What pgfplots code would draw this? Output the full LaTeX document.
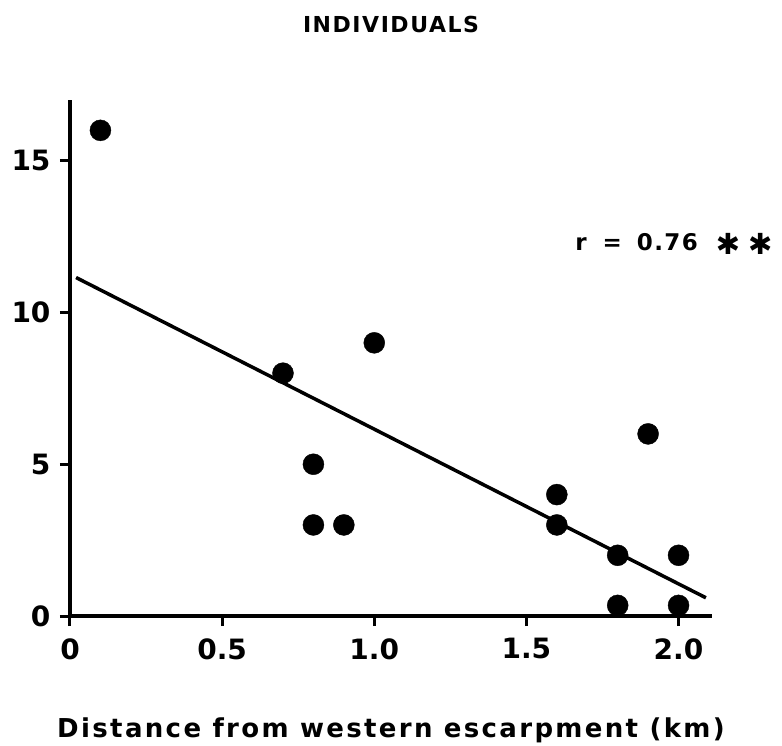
\documentclass[border=0pt]{standalone}
\usepackage{fontspec}
\setmainfont{DejaVu Sans}
\newfontfamily\titlefont[LetterSpace=7]{DejaVu Sans}
\newfontfamily\spaced[LetterSpace=9]{DejaVu Sans}
\newfontfamily\rfont[LetterSpace=6]{DejaVu Sans}
\newfontfamily\symfont{DejaVu Sans}
\usepackage{pgfplots}
\pgfplotsset{compat=1.18}
\begin{document}
\begin{tikzpicture}
\begin{axis}[
    anchor=origin, at={(0,0)},
    scale only axis,
    width=642pt, height=516pt,
    xmin=0, xmax=2.11,
    ymin=0, ymax=17,
    axis lines=left,
    axis line style={line width=3.6pt, -},
    xtick={0,0.5,1,1.5,2},
    xticklabels={0,0.5,1.0,1.5,2.0},
    ytick={0,5,10,15},
    tick align=outside,
    major tick length=10pt,
    tick style={line width=3pt, black},
    /pgf/number format/assume math mode=true,
    tick label style={font=\bfseries\fontsize{28}{31}\selectfont},
    xticklabel style={yshift=-9pt},
    yticklabel style={xshift=-6pt},
    clip=false,
]
% regression line
\addplot[black, line width=3.5pt] coordinates {(0.02,11.15) (2.09,0.6)};
% observed sites
\addplot[only marks, mark=*, mark size=10.5pt, black] coordinates {
    (0.1,16)
    (0.7,8)
    (0.8,5)
    (0.8,3)
    (0.9,3)
    (1.0,9)
    (1.6,4)
    (1.6,3)
    (1.8,2)
    (1.8,0.35)
    (1.9,6)
    (2.0,2)
    (2.0,0.35)
};
\node[anchor=base west, inner sep=0pt]
    at (axis cs:1.66,12.03)
    {\rfont\bfseries\fontsize{23}{28}\selectfont r\hspace{16pt}=\hspace{15pt}0.76\hspace{18pt}\raisebox{-4pt}{\symfont\fontsize{29}{28}\selectfont ✱\hspace{8pt}✱}};
\end{axis}
\node[anchor=base, font=\titlefont\bfseries\fontsize{22}{28}\selectfont] at (321pt,583pt) {INDIVIDUALS};
\node[anchor=base, font=\spaced\bfseries\fontsize{26}{30}\selectfont] at (321pt,-121pt)
    {Distance from western escarpment (km)};
\path[use as bounding box] (-70pt,-128pt) rectangle (712pt,616pt);
\end{tikzpicture}
\end{document}
